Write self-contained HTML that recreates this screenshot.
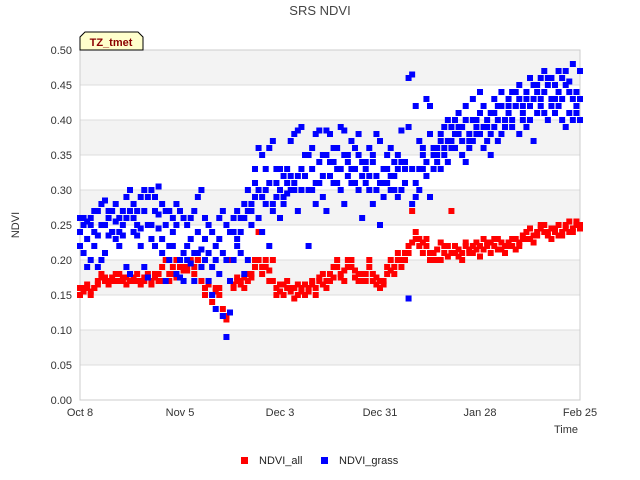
<!DOCTYPE html>
<html><head><meta charset="utf-8"><style>
body{margin:0;background:#fff;}
svg{display:block;font-family:"Liberation Sans",sans-serif;}
</style></head><body>
<svg id="chart" width="640" height="480" viewBox="0 0 640 480" xmlns="http://www.w3.org/2000/svg">
<text x="320" y="15" text-anchor="middle" font-size="13" fill="#444">SRS NDVI</text>
<g id="bands"></g>
<g id="grid"></g>
<rect x="80" y="50" width="500" height="350" fill="none" stroke="#ccc"/>
<g id="yticks"></g>
<g id="xticks"></g>
<text x="19" y="225" transform="rotate(-90 19 225)" text-anchor="middle" font-size="11" fill="#333">NDVI</text>
<text x="578" y="433" text-anchor="end" font-size="11" fill="#333">Time</text>
<g id="marks"></g>
<g>
<path d="M80,50 L80,37 L85,32 L138,32 L143,37 L143,50 Z" fill="#ffffcc" stroke="#000" stroke-width="1"/>
<text x="111" y="46" text-anchor="middle" font-size="11" font-weight="bold" fill="#8b0000">TZ_tmet</text>
</g>
<g>
<g><rect x="241" y="457" width="7" height="7" fill="#ff0000"/><text x="259" y="464" font-size="11" fill="#222">NDVI_all</text></g>
<g><rect x="321" y="457" width="7" height="7" fill="#0000ff"/><text x="339" y="464" font-size="11" fill="#222">NDVI_grass</text></g>
</g>
</svg>
<script>
const days = Array.from({length:141},(_, i)=>i);
const xTickLabels = ["Oct 8","Nov 5","Dec 3","Dec 31","Jan 28","Feb 25"];
const xTickDays = [0,28,56,84,112,140];
const yTickValues = [0,0.05,0.1,0.15,0.2,0.25,0.3,0.35,0.4,0.45,0.5];
const allA = [.16,.155,.16,.155,.16,.17,.175,.17,.17,.175,.17,.18,.17,.175,.17,.175,.17,.165,.17,.18,.17,.175,.18,.17,.17,.18,.19,.175,.19,.185,.19,.195,.18,.2,.19,.16,.17,.15,.155,.16,.12,.115,.125,.16,.17,.165,.175,.17,.18,.19,.2,.18,.19,.17,.2,.16,.155,.165,.16,.155,.16,.15,.16,.165,.155,.17,.16,.175,.165,.17,.18,.175,.19,.18,.17,.19,.2,.185,.18,.17,.18,.19,.17,.175,.16,.17,.18,.185,.19,.2,.19,.2,.21,.225,.23,.22,.225,.23,.21,.2,.215,.2,.21,.22,.21,.22,.205,.21,.22,.215,.21,.225,.22,.215,.22,.225,.22,.23,.215,.22,.225,.22,.23,.225,.23,.24,.23,.235,.24,.245,.24,.235,.245,.24,.235,.24,.25,.24,.245,.25,.25];
const allB = [.15,.16,.165,.15,.16,.165,.18,.175,.165,.17,.18,.17,.175,.165,.18,.17,.18,.17,.175,.175,.165,.18,.17,.19,.2,.17,.18,.2,.175,.19,.185,.2,.19,.2,.17,.15,.165,.14,.16,.15,.13,.12,.2,.165,.175,.17,.16,.18,.175,.2,.24,.19,.2,.185,.17,.15,.165,.15,.17,.16,.145,.165,.155,.15,.16,.165,.15,.17,.18,.16,.17,.19,.2,.175,.185,.2,.19,.175,.17,.18,.17,.2,.18,.165,.17,.165,.19,.2,.18,.21,.2,.21,.22,.27,.24,.23,.21,.22,.2,.21,.2,.225,.22,.205,.27,.21,.215,.2,.225,.21,.22,.215,.205,.23,.225,.21,.23,.215,.225,.21,.22,.23,.215,.22,.235,.23,.245,.225,.235,.25,.25,.24,.23,.245,.25,.235,.245,.255,.24,.255,.245];
const grassHigh = [.26,.25,.255,.26,.24,.27,.28,.25,.26,.27,.28,.26,.27,.29,.3,.28,.27,.29,.3,.29,.3,.29,.305,.28,.27,.27,.26,.28,.27,.26,.25,.26,.27,.29,.3,.26,.25,.24,.22,.26,.27,.25,.24,.26,.27,.26,.28,.3,.27,.33,.36,.35,.3,.36,.37,.33,.3,.32,.33,.37,.38,.385,.39,.32,.35,.36,.38,.385,.35,.385,.38,.34,.36,.39,.385,.35,.37,.36,.38,.34,.34,.36,.35,.38,.37,.33,.35,.36,.34,.33,.385,.34,.46,.465,.42,.37,.36,.43,.42,.36,.34,.38,.36,.4,.39,.4,.41,.39,.42,.37,.43,.4,.44,.42,.39,.41,.43,.42,.44,.4,.43,.44,.42,.45,.42,.44,.46,.43,.45,.46,.47,.45,.46,.43,.47,.46,.47,.455,.48,.44,.47];
const grassMid = [.24,.26,.23,.25,.27,.235,.25,.285,.27,.24,.255,.22,.25,.26,.27,.26,.25,.245,.27,.25,.25,.27,.265,.23,.25,.22,.24,.25,.2,.21,.22,.23,.21,.24,.215,.23,.21,.19,.2,.23,.21,.2,.17,.24,.23,.24,.26,.27,.28,.31,.3,.29,.33,.31,.28,.31,.33,.29,.31,.32,.3,.32,.33,.35,.3,.33,.31,.34,.32,.35,.34,.36,.31,.33,.35,.34,.31,.33,.35,.32,.33,.32,.34,.3,.31,.31,.33,.32,.3,.35,.34,.31,.39,.33,.29,.33,.35,.34,.38,.33,.35,.37,.39,.37,.36,.38,.39,.37,.4,.36,.4,.38,.41,.39,.4,.38,.41,.4,.42,.39,.42,.4,.44,.43,.4,.43,.42,.45,.44,.43,.44,.46,.42,.45,.44,.43,.45,.44,.43,.41,.43];
const grassLow = [.22,.21,.19,.2,.22,.19,.2,.21,.235,.24,.23,.24,.235,.19,.18,.24,.235,.22,.19,.175,.23,.22,.245,.21,.17,.2,.22,.18,.175,.17,.2,.195,.17,.21,.19,.2,.17,.15,.13,.18,.12,.09,.125,.2,.22,.21,.18,.2,.25,.29,.26,.24,.28,.22,.27,.29,.26,.28,.295,.3,.31,.27,.3,.32,.22,.3,.28,.31,.29,.27,.32,.31,.33,.3,.28,.32,.33,.31,.3,.26,.31,.3,.28,.32,.25,.29,.31,.3,.32,.29,.3,.33,.145,.28,.31,.3,.33,.32,.29,.35,.36,.33,.35,.34,.37,.36,.38,.35,.34,.38,.37,.39,.38,.36,.37,.35,.39,.37,.38,.4,.41,.39,.42,.38,.41,.39,.4,.37,.41,.42,.41,.4,.43,.41,.42,.4,.39,.41,.4,.42,.4];

const NS="http://www.w3.org/2000/svg";
const X0=80,X1=580,Y0=400,Y1=50,DMAX=140,VMAX=0.5;
function xScale(d){return X0+(d/DMAX)*(X1-X0);}
function yScale(v){return Y0-(v/VMAX)*(Y0-Y1);}
const bands=document.getElementById('bands'),grid=document.getElementById('grid'),yt=document.getElementById('yticks'),xt=document.getElementById('xticks'),marks=document.getElementById('marks');
for(let i=0;i<yTickValues.length-1;i++){
  if(i%2===1){
    const r=document.createElementNS(NS,'rect');
    
    
    const ya=yScale(yTickValues[i+1]),yb=yScale(yTickValues[i]);
    r.setAttribute('x',X0);r.setAttribute('y',ya);r.setAttribute('width',X1-X0);r.setAttribute('height',yb-ya);r.setAttribute('fill','#f3f3f3');
    bands.appendChild(r);
  }
}
yTickValues.forEach(v=>{
  const y=yScale(v);
  const l=document.createElementNS(NS,'line');
  
  
  l.setAttribute('x1',X0);l.setAttribute('x2',X1);l.setAttribute('y1',y);l.setAttribute('y2',y);l.setAttribute('stroke','#ddd');
  grid.appendChild(l);
  const t=document.createElementNS(NS,'text');
  
  
  t.setAttribute('x',72);t.setAttribute('y',y+4);t.setAttribute('text-anchor','end');t.setAttribute('font-size','11');t.setAttribute('fill','#333');
  t.textContent=v.toFixed(2);
  yt.appendChild(t);
});
xTickDays.forEach((d,i)=>{
  const t=document.createElementNS(NS,'text');
  
  
  t.setAttribute('x',xScale(d));t.setAttribute('y',416);t.setAttribute('text-anchor','middle');t.setAttribute('font-size','11');t.setAttribute('fill','#333');
  t.textContent=xTickLabels[i];
  xt.appendChild(t);
});
function plot(vals,color,name){
  vals.forEach((v,i)=>{
    const r=document.createElementNS(NS,'rect');
    
    
    r.setAttribute('x',xScale(days[i])-3);r.setAttribute('y',yScale(v)-3);r.setAttribute('width',6);r.setAttribute('height',6);r.setAttribute('fill',color);
    marks.appendChild(r);
  });
}
plot(allA,'#ff0000','ndvi-all-point');
plot(allB,'#ff0000','ndvi-all-point');
plot(grassHigh,'#0000ff','ndvi-grass-point');
plot(grassMid,'#0000ff','ndvi-grass-point');
plot(grassLow,'#0000ff','ndvi-grass-point');
</script>
</body></html>
